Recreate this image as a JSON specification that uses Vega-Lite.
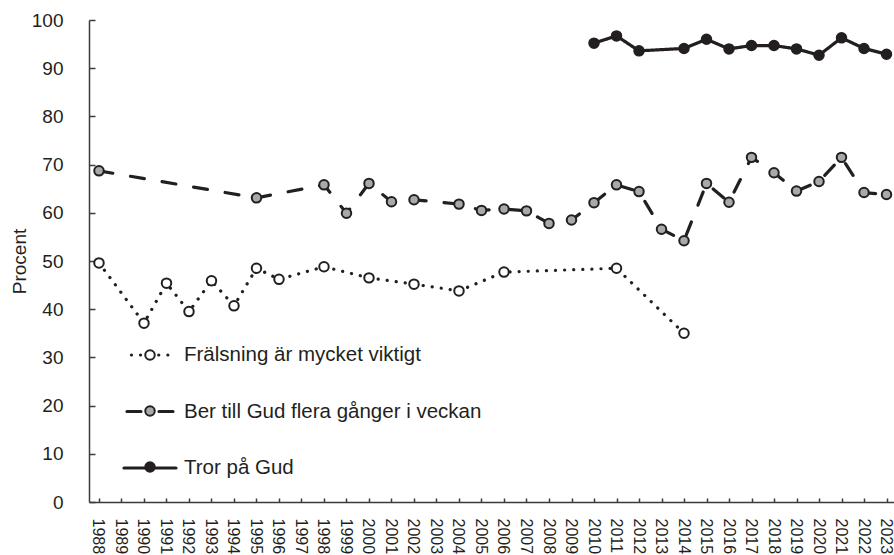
{
  "$schema": "https://vega.github.io/schema/vega-lite/v6.json",
  "width": 805,
  "height": 482,
  "autosize": {"type": "none"},
  "padding": {"left": 89, "top": 20, "right": 0, "bottom": 53},
  "background": "white",
  "config": {
    "view": {"stroke": null},
    "font": "Liberation Sans",
    "axis": {
      "domainColor": "#3b3b3b",
      "domainWidth": 1.5,
      "tickColor": "#3b3b3b",
      "tickWidth": 1.5,
      "grid": false,
      "labelColor": "#231f20",
      "labelFont": "Liberation Sans",
      "titleColor": "#231f20",
      "titleFont": "Liberation Sans",
      "titleFontWeight": "normal"
    }
  },
  "data": {
    "values": [
      {"year": 1988, "series": "Frälsning är mycket viktigt", "value": 49.6},
      {"year": 1990, "series": "Frälsning är mycket viktigt", "value": 37.1},
      {"year": 1991, "series": "Frälsning är mycket viktigt", "value": 45.4},
      {"year": 1992, "series": "Frälsning är mycket viktigt", "value": 39.5},
      {"year": 1993, "series": "Frälsning är mycket viktigt", "value": 45.9},
      {"year": 1994, "series": "Frälsning är mycket viktigt", "value": 40.7},
      {"year": 1995, "series": "Frälsning är mycket viktigt", "value": 48.5},
      {"year": 1996, "series": "Frälsning är mycket viktigt", "value": 46.2},
      {"year": 1998, "series": "Frälsning är mycket viktigt", "value": 48.8},
      {"year": 2000, "series": "Frälsning är mycket viktigt", "value": 46.5},
      {"year": 2002, "series": "Frälsning är mycket viktigt", "value": 45.2},
      {"year": 2004, "series": "Frälsning är mycket viktigt", "value": 43.8},
      {"year": 2006, "series": "Frälsning är mycket viktigt", "value": 47.7},
      {"year": 2011, "series": "Frälsning är mycket viktigt", "value": 48.5},
      {"year": 2014, "series": "Frälsning är mycket viktigt", "value": 35.0},
      {"year": 1988, "series": "Ber till Gud flera gånger i veckan", "value": 68.7},
      {"year": 1995, "series": "Ber till Gud flera gånger i veckan", "value": 63.1},
      {"year": 1998, "series": "Ber till Gud flera gånger i veckan", "value": 65.8},
      {"year": 1999, "series": "Ber till Gud flera gånger i veckan", "value": 59.9},
      {"year": 2000, "series": "Ber till Gud flera gånger i veckan", "value": 66.1},
      {"year": 2001, "series": "Ber till Gud flera gånger i veckan", "value": 62.3},
      {"year": 2002, "series": "Ber till Gud flera gånger i veckan", "value": 62.7},
      {"year": 2004, "series": "Ber till Gud flera gånger i veckan", "value": 61.8},
      {"year": 2005, "series": "Ber till Gud flera gånger i veckan", "value": 60.5},
      {"year": 2006, "series": "Ber till Gud flera gånger i veckan", "value": 60.8},
      {"year": 2007, "series": "Ber till Gud flera gånger i veckan", "value": 60.4},
      {"year": 2008, "series": "Ber till Gud flera gånger i veckan", "value": 57.8},
      {"year": 2009, "series": "Ber till Gud flera gånger i veckan", "value": 58.5},
      {"year": 2010, "series": "Ber till Gud flera gånger i veckan", "value": 62.1},
      {"year": 2011, "series": "Ber till Gud flera gånger i veckan", "value": 65.8},
      {"year": 2012, "series": "Ber till Gud flera gånger i veckan", "value": 64.4},
      {"year": 2013, "series": "Ber till Gud flera gånger i veckan", "value": 56.6},
      {"year": 2014, "series": "Ber till Gud flera gånger i veckan", "value": 54.2},
      {"year": 2015, "series": "Ber till Gud flera gånger i veckan", "value": 66.1},
      {"year": 2016, "series": "Ber till Gud flera gånger i veckan", "value": 62.2},
      {"year": 2017, "series": "Ber till Gud flera gånger i veckan", "value": 71.5},
      {"year": 2018, "series": "Ber till Gud flera gånger i veckan", "value": 68.3},
      {"year": 2019, "series": "Ber till Gud flera gånger i veckan", "value": 64.5},
      {"year": 2020, "series": "Ber till Gud flera gånger i veckan", "value": 66.5},
      {"year": 2021, "series": "Ber till Gud flera gånger i veckan", "value": 71.5},
      {"year": 2022, "series": "Ber till Gud flera gånger i veckan", "value": 64.2},
      {"year": 2023, "series": "Ber till Gud flera gånger i veckan", "value": 63.8},
      {"year": 2010, "series": "Tror på Gud", "value": 95.2},
      {"year": 2011, "series": "Tror på Gud", "value": 96.7},
      {"year": 2012, "series": "Tror på Gud", "value": 93.6},
      {"year": 2014, "series": "Tror på Gud", "value": 94.1},
      {"year": 2015, "series": "Tror på Gud", "value": 96.0},
      {"year": 2016, "series": "Tror på Gud", "value": 94.0},
      {"year": 2017, "series": "Tror på Gud", "value": 94.7},
      {"year": 2018, "series": "Tror på Gud", "value": 94.7},
      {"year": 2019, "series": "Tror på Gud", "value": 94.0},
      {"year": 2020, "series": "Tror på Gud", "value": 92.7},
      {"year": 2021, "series": "Tror på Gud", "value": 96.3},
      {"year": 2022, "series": "Tror på Gud", "value": 94.1},
      {"year": 2023, "series": "Tror på Gud", "value": 92.9}
    ]
  },
  "encoding": {
    "x": {
      "field": "year",
      "type": "quantitative",
      "scale": {"domain": [1987.556, 2023.333], "nice": false, "zero": false},
      "axis": {
        "title": null,
        "values": [1988, 1989, 1990, 1991, 1992, 1993, 1994, 1995, 1996, 1997, 1998, 1999, 2000, 2001, 2002, 2003, 2004, 2005, 2006, 2007, 2008, 2009, 2010, 2011, 2012, 2013, 2014, 2015, 2016, 2017, 2018, 2019, 2020, 2021, 2022, 2023],
        "format": "d",
        "labelAngle": 90,
        "labelFontSize": 16,
        "tickSize": -4,
        "labelPadding": 20,
        "labelOffset": -1,
        "labelOverlap": false,
        "labelFlush": false,
        "labelBound": false
      }
    },
    "y": {
      "field": "value",
      "type": "quantitative",
      "scale": {"domain": [0, 100], "nice": false},
      "axis": {
        "title": "Procent",
        "values": [0, 10, 20, 30, 40, 50, 60, 70, 80, 90, 100],
        "labelFontSize": 19,
        "titleFontSize": 19,
        "tickSize": -6,
        "labelPadding": 32,
        "titlePadding": 2,
        "labelOverlap": false,
        "labelFlush": false,
        "labelBound": false
      }
    }
  },
  "layer": [
    {
      "mark": {"type": "line", "strokeWidth": 3.2, "strokeCap": "round", "strokeJoin": "round", "color": "#231f20"},
      "encoding": {
        "strokeDash": {
          "field": "series",
          "type": "nominal",
          "scale": {
            "domain": ["Frälsning är mycket viktigt", "Ber till Gud flera gånger i veckan", "Tror på Gud"],
            "range": [[0.1, 9], [14, 18], [1, 0]]
          },
          "legend": {
            "orient": "none",
            "legendX": 33,
            "legendY": 307,
            "title": null,
            "symbolType": "stroke",
            "symbolSize": 2704,
            "symbolStrokeWidth": 3.2,
            "symbolStrokeColor": "#231f20",
            "labelFontSize": 20.5,
            "labelColor": "#231f20",
            "labelFont": "Liberation Sans",
            "labelOffset": 6,
            "labelLimit": 0,
            "rowPadding": 17.5,
            "padding": 0,
            "zindex": 1,
            "encode": {"symbols": {"update": {"strokeCap": {"value": "round"}, "strokeDashOffset": {"value": 29}}}}
          }
        }
      }
    },
    {
      "transform": [{"calculate": "datum.series + ' '", "as": "markor"}],
      "mark": {"type": "point", "shape": "circle", "filled": true, "size": 90, "stroke": "#231f20", "strokeWidth": 2, "opacity": 1},
      "encoding": {
        "fill": {
          "field": "markor",
          "type": "nominal",
          "scale": {
            "domain": ["Frälsning är mycket viktigt ", "Ber till Gud flera gånger i veckan ", "Tror på Gud "],
            "range": ["#ffffff", "#a7a9ac", "#231f20"]
          },
          "legend": {
            "orient": "none",
            "legendX": 55,
            "legendY": 329,
            "title": null,
            "symbolType": "circle",
            "symbolSize": 90,
            "symbolStrokeWidth": 2,
            "symbolStrokeColor": "#231f20",
            "symbolOpacity": 1,
            "labelExpr": "''",
            "labelFontSize": 1,
            "labelOffset": 0,
            "rowPadding": 38,
            "padding": 0,
            "zindex": 2
          }
        }
      }
    }
  ]
}
